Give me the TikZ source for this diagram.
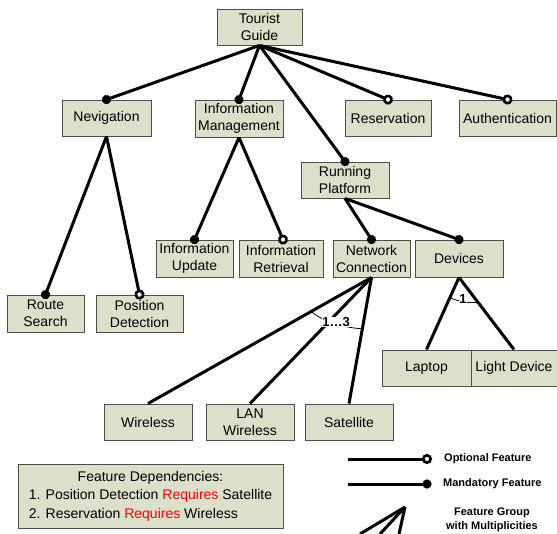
\documentclass[tikz,border=0pt]{standalone}
\usepackage{fontspec}
\setmainfont{Liberation Sans}
\usetikzlibrary{arrows.meta,calc}
\definecolor{boxfill}{RGB}{220,224,202}
\definecolor{boxline}{RGB}{77,77,77}
\definecolor{reqred}{RGB}{255,0,0}
\begin{document}
\begin{tikzpicture}[x=1pt,y=-1pt,
  feat/.style={draw=boxline, fill=boxfill, line width=0.9pt, minimum height=36pt, inner sep=0pt, align=center, font=\fontsize{14}{17}\selectfont},
  conn/.style={line width=3pt},
  mand/.style={conn, -{Circle[length=9pt]}, shorten >=-4.5pt},
  opt/.style={conn, -{Circle[length=10pt, line width=2.6pt, fill=white]}, shorten >=-5pt},
  grp/.style={conn},
  arcline/.style={line width=0.8pt},
  mult/.style={fill=white, inner sep=0.5pt, font=\fontsize{13}{13}\selectfont\bfseries},
  legtext/.style={anchor=west, inner sep=0pt, font=\fontsize{11}{14}\selectfont\bfseries},
]
\useasboundingbox (0,0) rectangle (557,534);

% features
\node[feat, minimum width=85pt] (tg) at (259.5,27) {Tourist\\Guide};
\node[feat, minimum width=89pt] (nav) at (106.5,118) {Nevigation};
\node[feat, minimum width=88pt, minimum height=37pt] (im) at (239,118.5) {Information\\Management};
\node[feat, minimum width=86pt] (res) at (388,118) {Reservation};
\node[feat, minimum width=97pt] (auth) at (507.5,118) {Authentication};
\node[feat, minimum width=88pt] (rp) at (345,180) {Running\\Platform};
\node[feat, minimum width=77pt, minimum height=37pt] (iu) at (194.5,258.5) {Information\\Update};
\node[feat, minimum width=84pt, minimum height=37pt] (ir) at (281,258.5) {Information\\Retrieval};
\node[feat, minimum width=77pt, minimum height=37pt] (nc) at (371.5,258.5) {Network\\Connection};
\node[feat, minimum width=88pt, minimum height=37pt] (dev) at (459,258.5) {Devices};
\node[feat, minimum width=77pt, minimum height=37pt] (rs) at (45.5,313.5) {Route\\Search};
\node[feat, minimum width=87pt, minimum height=37pt] (pd) at (139.5,313.5) {Position\\Detection};
\node[feat, minimum width=89pt] (lap) at (426.5,368) {Laptop};
\node[feat, minimum width=86pt] (ld) at (514,368) {Light Device};
\node[feat, minimum width=88pt] (wl) at (148,422) {Wireless};
\node[feat, minimum width=88pt] (lan) at (250,422) {LAN\\Wireless};
\node[feat, minimum width=88pt] (sat) at (349,422) {Satellite};

% connectors
\draw[mand] (tg.south) -- (nav.north);
\draw[mand] (tg.south) -- (im.north);
\draw[mand] (tg.south) -- (rp.north);
\draw[opt] (tg.south) -- (res.north);
\draw[opt] (tg.south) -- (auth.north);
\draw[mand] (nav.south) -- (rs.north);
\draw[opt] (nav.south) -- (pd.north);
\draw[mand] (im.south) -- (iu.north);
\draw[opt] (im.south) -- ([xshift=2pt]ir.north);
\draw[mand] (rp.south) -- (nc.north);
\draw[mand] (rp.south) -- (dev.north);
\draw[grp] (nc.south) -- (wl.north);
\draw[grp] (nc.south) -- (lan.north);
\draw[grp] (nc.south) -- (sat.north);
\draw[grp] (dev.south) -- (lap.north);
\draw[grp] (dev.south) -- (ld.north);

% group multiplicities
\coordinate (g1a) at ($(nc.south)!69pt!(wl.north)$);
\coordinate (g1b) at ($(nc.south)!52pt!(sat.north)$);
\draw[arcline] (g1a) .. controls +(8,9) and +(-15,0) .. (g1b);
\node[mult] (m13) at (336,322) {1…3};
\coordinate (g2a) at ($(dev.south)!22pt!(lap.north)$);
\coordinate (g2b) at ($(dev.south)!31pt!(ld.north)$);
\draw[arcline] (g2a) .. controls +(7,4) and +(-7,1.5) .. (g2b);
\node[mult] (m1) at (463,299) {1};

% dependencies box
\node[feat, minimum width=265pt, minimum height=64pt, font=\fontsize{14}{18.5}\selectfont] (dep) at (150.5,496)
  {\begin{tabular}{@{}l@{}}\multicolumn{1}{@{}c@{}}{Feature Dependencies:}\\
   1. Position Detection \textcolor{reqred}{Requires} Satellite\\
   2. Reservation \textcolor{reqred}{Requires} Wireless\end{tabular}};

% legend
\coordinate (lo1) at (348,459);
\coordinate (lo2) at (427,459);
\coordinate (lm1) at (348,484);
\coordinate (lm2) at (427,484);
\draw[opt] (lo1) -- (lo2);
\draw[mand] (lm1) -- (lm2);
\node[legtext] (lot) at (444,459) {Optional Feature};
\node[legtext] (lmt) at (443,484) {Mandatory Feature};
\coordinate (tip) at (405,507);
\coordinate (b1) at (360,534);
\coordinate (b2) at (380,534);
\coordinate (b3) at (399,534);
\draw[grp] (tip) -- (b1);
\draw[grp] (tip) -- (b2);
\draw[grp] (tip) -- (b3);
\node[font=\fontsize{11}{14}\selectfont\bfseries, align=center, inner sep=0pt] (lgt) at (492,520) {Feature Group\\with Multiplicities};
\end{tikzpicture}
\end{document}
